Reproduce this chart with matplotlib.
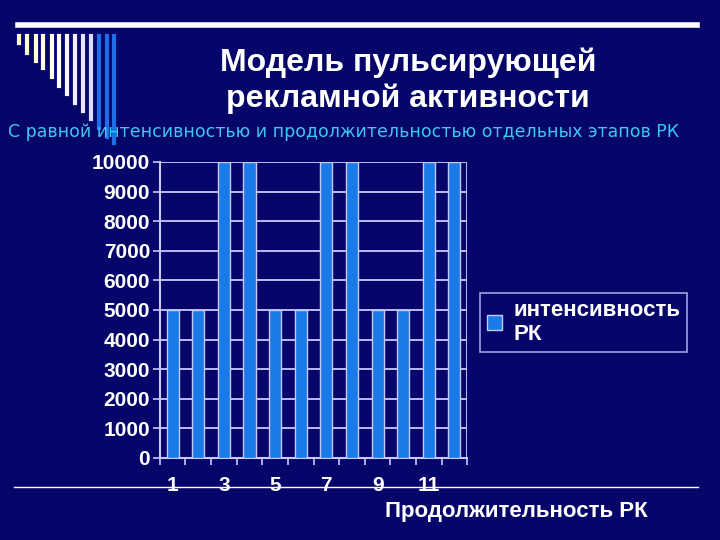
import numpy as np
import matplotlib.pyplot as plt
from matplotlib.lines import Line2D
from matplotlib.patches import Patch

BG = "#05056a"
BAR = "#1a7ae8"
GRID = "#c8c8ff"

# data
stages = np.arange(1, 13)
intensity = [5000, 5000, 10000, 10000, 5000, 5000,
             10000, 10000, 5000, 5000, 10000, 10000]
y_ticks = [0, 1000, 2000, 3000, 4000, 5000, 6000, 7000, 8000, 9000, 10000]
x_labels = [1, 3, 5, 7, 9, 11]

plt.rcParams['font.family'] = ['Liberation Sans', 'DejaVu Sans']

fig = plt.figure(figsize=(7.2, 5.4), dpi=100, facecolor=BG)
ax = fig.add_axes([0.222, 0.152, 0.427, 0.548])
ax.set_facecolor(BG)

ax.bar(stages, intensity, width=0.47, color=BAR, edgecolor=GRID,
       linewidth=1.0, zorder=3)

ax.set_xlim(0.5, 12.5)
ax.set_ylim(0, 10000)
ax.set_yticks(y_ticks)
ax.set_yticklabels([str(v) for v in y_ticks], fontsize=15,
                   fontweight='bold', color='white')
ax.set_xticks(x_labels)
ax.set_xticklabels([str(v) for v in x_labels], fontsize=15,
                   fontweight='bold', color='white')
ax.set_xticks(np.arange(0.5, 13, 1), minor=True)
ax.tick_params(axis='x', which='major', length=0, pad=13)
ax.tick_params(axis='x', which='minor', length=5, color=GRID, width=1.2)
ax.tick_params(axis='y', length=5, color=GRID, width=1.2, pad=2)

ax.grid(axis='y', color=GRID, linewidth=1.3, zorder=1)
for side in ['top', 'right']:
    ax.spines[side].set_visible(False)
for side in ['left', 'bottom']:
    ax.spines[side].set_color(GRID)
    ax.spines[side].set_linewidth(1.5)
ax.axvline(12.5, color=GRID, linewidth=1.3, zorder=1)

leg = fig.legend(handles=[Patch(facecolor=BAR, edgecolor=GRID,
                                label='интенсивность\nРК')],
                 loc='upper left', bbox_to_anchor=(480 / 720, 1 - 293 / 540),
                 frameon=True, fancybox=False, handlelength=0.7,
                 handleheight=0.7, handletextpad=0.5, borderpad=0.3,
                 borderaxespad=0, labelspacing=0,
                 prop={'size': 16, 'weight': 'bold'})
leg.get_frame().set_facecolor(BG)
leg.get_frame().set_edgecolor(GRID)
leg.get_frame().set_linewidth(1.2)
for t in leg.get_texts():
    t.set_color('white')

# slide decoration
fig.add_artist(Line2D([18 / 720, 697 / 720], [1 - 24.5 / 540, 1 - 24.5 / 540],
                      color='white', linewidth=4))
bar_x = [19, 27, 36, 43, 52, 59, 67, 75, 83, 91, 99, 107, 114]
bar_end = [43, 53, 61, 68, 77, 86, 94, 103, 111, 119, 128, 137, 143]
deco_colors = ['#ffffcc', '#ffffcc', '#ffffd6', '#ffffe0', '#ffffea', '#fffff2',
               '#f8f8ff', '#eeeeff', '#e6e6ff', '#dcdcff',
               '#1e6ee6', '#1e6ee6', '#1e6ee6']
for xx, ye, c in zip(bar_x, bar_end, deco_colors):
    fig.add_artist(Line2D([xx / 720, xx / 720], [1 - 36 / 540, 1 - ye / 540],
                          color=c, linewidth=3))
fig.add_artist(Line2D([14 / 720, 698 / 720], [1 - 487 / 540, 1 - 487 / 540],
                      color='white', linewidth=1))

fig.text(0.567, 1 - 81 / 540, 'Модель пульсирующей\nрекламной активности',
         ha='center', va='center', color='white', fontsize=23,
         fontweight='bold', linespacing=1.25)
fig.text(8 / 720, 1 - 132 / 540,
         'С равной интенсивностью и продолжительностью отдельных этапов РК',
         ha='left', va='center', color='#3cc8f0', fontsize=12.5,
         family=['DejaVu Sans'])
fig.text(516 / 720, 1 - 511 / 540, 'Продолжительность РК', ha='center',
         va='center', color='white', fontsize=16, fontweight='bold')

fig.savefig('out.png', dpi=100, facecolor=BG)
